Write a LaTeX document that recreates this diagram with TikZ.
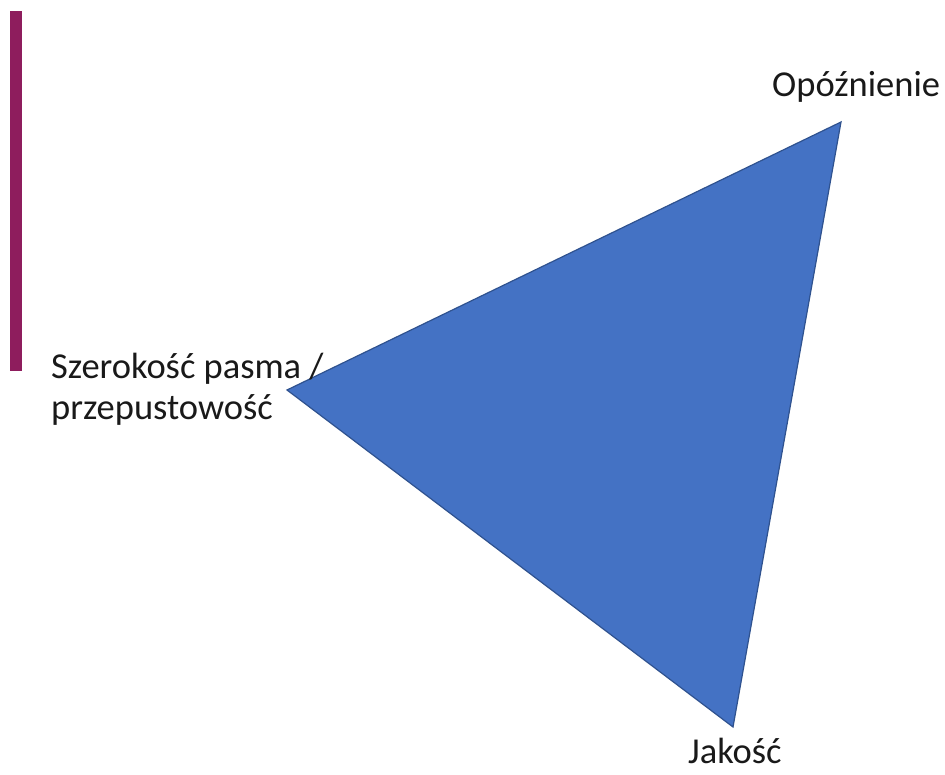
\documentclass[tikz,border=0pt]{standalone}
\usepackage{fontspec}
\setmainfont{Carlito}
\definecolor{tri}{HTML}{4472C4}
\definecolor{triline}{HTML}{2F528F}
\definecolor{bar}{HTML}{8E1D5D}
\begin{document}
\begin{tikzpicture}[x=1pt,y=-1pt,
  lbl/.style={inner sep=0pt,anchor=base west,font=\fontsize{36.5}{44}\selectfont,text=black!90}]
\useasboundingbox (0,0) rectangle (945,775);
\fill[bar] (10,11) rectangle (22,371);
\coordinate (A) at (841,122);
\coordinate (B) at (287,390);
\coordinate (C) at (733,727);
\filldraw[fill=tri,draw=triline,line width=1.2pt,line join=miter] (A) -- (B) -- (C) -- cycle;
\node[lbl] (t1) at (51,378) {Szerokość pasma /};
\node[lbl] (t2) at (51,419) {przepustowość};
\node[lbl] (t3) at (772,97) {Opóźnienie};
\node[lbl] (t4) at (688,763) {Jakość};
\end{tikzpicture}
\end{document}
